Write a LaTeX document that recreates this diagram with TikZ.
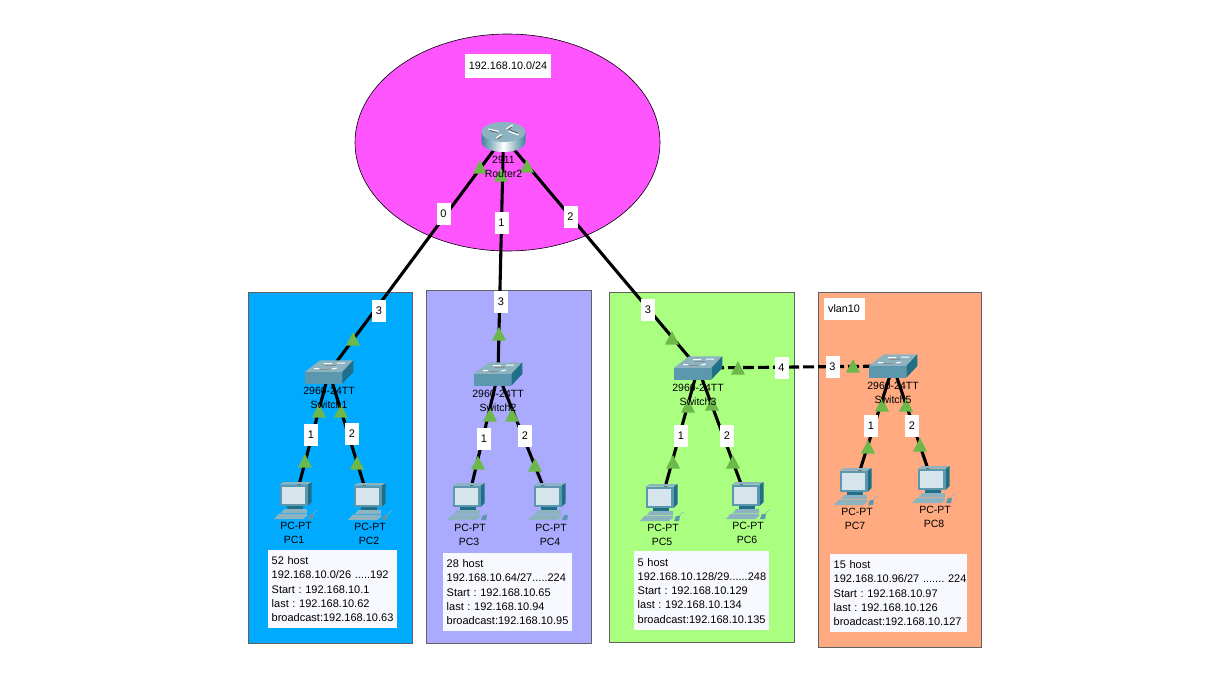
\documentclass[tikz,border=0pt]{standalone}
\usepackage{fontspec}
\setmainfont{Liberation Sans}

\definecolor{netpink}{HTML}{FF55FF}
\definecolor{zoneblue}{HTML}{00AAFF}
\definecolor{zonepurple}{HTML}{AAAAFF}
\definecolor{zonegreen}{HTML}{AAFF80}
\definecolor{zoneorange}{HTML}{FFAA80}
\definecolor{infowhite}{HTML}{F8F9FF}
\definecolor{upgreen}{HTML}{6DB84A}
\definecolor{iconlight}{HTML}{8DB3C1}
\definecolor{iconmid}{HTML}{5B98AE}
\definecolor{icondark}{HTML}{1F6F88}
\definecolor{iconscreen}{HTML}{D6E5EB}

\tikzset{
  zone/.style={draw=black!62, line width=1pt},
  wire/.style={line width=3.1pt, black},
  portlabel/.style={fill=white, inner sep=0pt, minimum width=14pt, minimum height=22pt, font=\fontsize{11}{13}\selectfont},
  devlabel/.style={inner sep=0pt, font=\fontsize{10.5}{12}\selectfont},
  infobox/.style={fill=infowhite, inner ysep=0pt, inner xsep=3.5pt, anchor=north west, align=left, font=\fontsize{11}{14.2}\selectfont},
  notebox/.style={fill=white, inner sep=0pt, font=\fontsize{10.8}{13}\selectfont},
  routericon/.pic={
    \draw[draw=none, left color=icondark!85, right color=icondark!85, middle color=white]
      (-22,-5) -- (-22,5) arc[start angle=180, end angle=0, x radius=22, y radius=10] -- (22,-5) -- cycle;
    \fill[iconlight] (0,-5) ellipse[x radius=22, y radius=10];
    \draw[white, line width=1.3pt] (-15,-8) -- (-5,-5.5) (3,-8) -- (9,-12) (-7,1) -- (-2,-2.5) (5,-6) -- (15,-2);
    \draw[black!65, line width=.8pt] (-14,-6.5) -- (-6,-4.5) (4,-7) -- (8,-10) (-6,2) -- (-2,-1) (6,-7) -- (14,-4);
  },
  switchicon/.pic={
    \fill[iconlight] (-24.3,0) -- (-9,-11.7) -- (24.3,-11.7) -- (13.3,0) -- cycle;
    \fill[iconmid] (-24.3,0) rectangle (13.3,11.7);
    \fill[icondark] (13.3,0) -- (24.3,-11.7) -- (24.3,0) -- (13.3,11.7) -- cycle;
    \draw[white, line width=1pt] (-5,-8.5) -- (3,-8.5) (8,-9) -- (16,-9) (-15,-3.5) -- (-10,-3.5) (3,-3) -- (8,-4);
    \draw[black!45, line width=.6pt] (-9,-3) -- (0,-3) (-4,-7) -- (7,-7);
  },
  pcicon/.pic={
    % monitor
    \fill[icondark] (12.5,-17) -- (16.5,-18) -- (16.5,2) -- (12.5,6) -- cycle;
    \fill[iconlight] (-15.5,-15.5) -- (-11,-18) -- (16.5,-18) -- (12.5,-15.5) -- cycle;
    \fill[iconmid] (-15.5,-15.5) rectangle (12.5,6);
    \fill[iconscreen] (-13,-13.5) rectangle (10.2,3.5);
    % foot
    \fill[icondark] (-8,6) rectangle (8,9);
    \fill[iconlight] (-14,13) -- (-11,9) -- (12,9) -- (12,13) -- cycle;
    % keyboard and mouse
    \fill[iconlight] (-21,19) -- (-16,13.5) -- (12,13.5) -- (12,16) -- (8,19) -- cycle;
    \fill[iconmid] (13,19) -- (15,14) -- (19,14) -- (18,19) -- cycle;
    \draw[iconlight, line width=.5pt] (18,14) .. controls (20,10) and (24,11) .. (23,9);
  }
}

\begin{document}
\frenchspacing
\begin{tikzpicture}[x=1pt,y=-1pt]
\useasboundingbox (0,0) rectangle (1230,699);
\fill[white] (0,0) rectangle (1230,699);

% network and vlan areas
\draw[fill=netpink, draw=black, line width=.6pt] (507.5,142.5) ellipse[x radius=152.5, y radius=108.5];
\draw[zone, fill=zoneblue] (248,292) rectangle (412,643);
\draw[zone, fill=zonepurple] (426,290) rectangle (591,643);
\draw[zone, fill=zonegreen] (609,292) rectangle (794,642);
\draw[zone, fill=zoneorange] (818,292) rectangle (981,647);

% device positions
\coordinate (router) at (503.5,137);
\coordinate (sw1) at (329,372);
\coordinate (sw2) at (498,374);
\coordinate (sw3) at (698,368);
\coordinate (sw5) at (893,366);
\coordinate (pc1) at (295,500);
\coordinate (pc2) at (369,501);
\coordinate (pc3) at (468,501);
\coordinate (pc4) at (549,501);
\coordinate (pc5) at (661,502);
\coordinate (pc6) at (747,500);
\coordinate (pc7) at (855,486);
\coordinate (pc8) at (933,484);

% cables
\draw[wire] (router) -- (sw1);
\draw[wire] (router) -- (sw2);
\draw[wire] (router) -- (sw3);
\foreach \a/\b in {sw1/pc1,sw1/pc2,sw2/pc3,sw2/pc4,sw3/pc5,sw3/pc6,sw5/pc7,sw5/pc8}
  \draw[wire] (\a) -- (\b);
\draw[wire, dash pattern=on 11pt off 4pt] (sw3) -- (sw5);

% devices
\pic at (router) {routericon};
\foreach \a in {sw1,sw2,sw3,sw5} \pic at (\a) {switchicon};
\foreach \a in {pc1,pc2,pc3,pc4,pc5,pc6,pc7,pc8} \pic at (\a) {pcicon};

% link lights
\foreach \x/\y in {480/167,501/175,527/166,353/339,499/334,672/338,
  319/411,341/411,305/461,357/463,490/415,512/415,478/463,535/465,
  688/406,712/404,673/462,733/462,738/368,853/366,
  882/405,906/405,868/447,920/445}
  \fill[upgreen] (\x-7,\y+6.5) -- (\x+7,\y+6.5) -- (\x,\y-7) -- cycle;

% port numbers
\node[portlabel] (r0) at (443.5,214) {0};
\node[portlabel] (r1) at (501.5,223) {1};
\node[portlabel] (r2) at (570.5,217) {2};
\node[portlabel] (s1up) at (379,311) {3};
\node[portlabel] (s1a) at (311,435) {1};
\node[portlabel] (s1b) at (352,434) {2};
\node[portlabel] (s2up) at (501,302) {3};
\node[portlabel] (s2a) at (484,439) {1};
\node[portlabel] (s2b) at (525,436) {2};
\node[portlabel] (s3up) at (648,310) {3};
\node[portlabel] (s3a) at (681,436) {1};
\node[portlabel] (s3b) at (727,436) {2};
\node[portlabel] (s3c) at (781.5,368) {4};
\node[portlabel] (s5c) at (832.5,367) {3};
\node[portlabel] (s5a) at (871,426) {1};
\node[portlabel] (s5b) at (912,426) {2};

% device names
\node[devlabel] (routertype) at (503.5,160) {2911};
\node[devlabel] (routername) at (503.5,174) {Router2};
\node[devlabel] (sw1type) at (329,391) {2960-24TT};
\node[devlabel] (sw1name) at (329,405) {Switch1};
\node[devlabel] (sw2type) at (498,394) {2960-24TT};
\node[devlabel] (sw2name) at (498,408) {Switch2};
\node[devlabel] (sw3type) at (698,388) {2960-24TT};
\node[devlabel] (sw3name) at (698,402) {Switch3};
\node[devlabel] (sw5type) at (893,386) {2960-24TT};
\node[devlabel] (sw5name) at (893,400) {Switch5};
\node[devlabel] (pc1type) at (296,526) {PC-PT};
\node[devlabel] (pc1name) at (294,540) {PC1};
\node[devlabel] (pc2type) at (370,527) {PC-PT};
\node[devlabel] (pc2name) at (369,541) {PC2};
\node[devlabel] (pc3type) at (470,528) {PC-PT};
\node[devlabel] (pc3name) at (469,542) {PC3};
\node[devlabel] (pc4type) at (551,528) {PC-PT};
\node[devlabel] (pc4name) at (550,542) {PC4};
\node[devlabel] (pc5type) at (663,528) {PC-PT};
\node[devlabel] (pc5name) at (662,542) {PC5};
\node[devlabel] (pc6type) at (748,526) {PC-PT};
\node[devlabel] (pc6name) at (747,540) {PC6};
\node[devlabel] (pc7type) at (857,512) {PC-PT};
\node[devlabel] (pc7name) at (855,526) {PC7};
\node[devlabel] (pc8type) at (935,510) {PC-PT};
\node[devlabel] (pc8name) at (934,524) {PC8};

% notes
\node[notebox, minimum width=86pt, minimum height=24pt] (netnote) at (508,66) {192.168.10.0/24};
\node[notebox, minimum width=41pt, minimum height=22pt] (vlannote) at (844,309) {vlan10};
\node[infobox, minimum width=129pt, minimum height=78pt, text width=122pt] (info1) at (268,550)
  {52 host\\192.168.10.0/26 .....192\\Start : 192.168.10.1\\last : 192.168.10.62\\broadcast:192.168.10.63};
\node[infobox, minimum width=129pt, minimum height=78pt, text width=122pt] (info2) at (443,553)
  {28 host\\192.168.10.64/27.....224\\Start : 192.168.10.65\\last : 192.168.10.94\\broadcast:192.168.10.95};
\node[infobox, minimum width=135pt, minimum height=79pt, text width=128pt] (info3) at (634,551)
  {5 host\\192.168.10.128/29......248\\Start : 192.168.10.129\\last : 192.168.10.134\\broadcast:192.168.10.135};
\node[infobox, minimum width=137pt, minimum height=78pt, text width=130pt] (info4) at (830,554)
  {15 host\\\mbox{192.168.10.96/27 ....... 224}\\Start : 192.168.10.97\\last : 192.168.10.126\\broadcast:192.168.10.127};

\end{tikzpicture}
\end{document}
